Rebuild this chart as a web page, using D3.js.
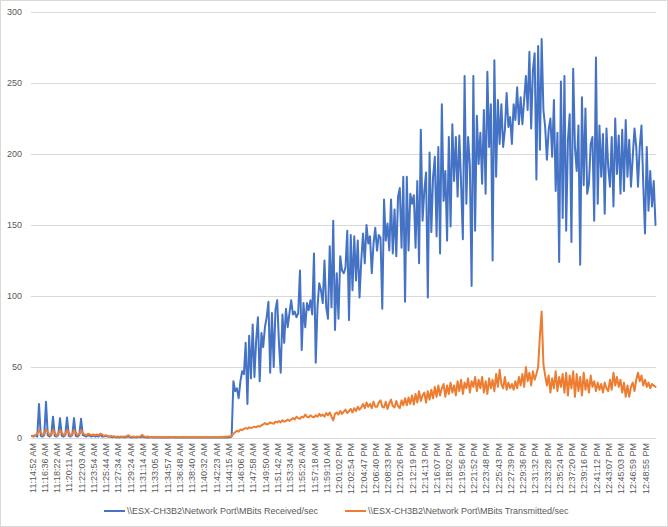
<!DOCTYPE html>
<html>
<head>
<meta charset="utf-8">
<script src="https://cdn.jsdelivr.net/npm/d3@7"></script>
<style>
  html, body { margin: 0; padding: 0; background: #fff; }
  svg { display: block; }
  text { font-family: "Liberation Sans", Arial, sans-serif; fill: #595959; }
</style>
</head>
<body>
<svg id="chart" width="668" height="527"></svg>
<script>
// ---- Tick labels (every 7th sample) ----
const tickLabels = [
  "11:14:52 AM","11:16:36 AM","11:18:22 AM","11:20:11 AM","11:22:03 AM","11:23:54 AM",
  "11:25:44 AM","11:27:34 AM","11:29:24 AM","11:31:14 AM","11:33:05 AM","11:34:57 AM",
  "11:36:48 AM","11:38:40 AM","11:40:32 AM","11:42:23 AM","11:44:15 AM","11:46:06 AM",
  "11:47:58 AM","11:49:50 AM","11:51:42 AM","11:53:34 AM","11:55:26 AM","11:57:18 AM",
  "11:59:10 AM","12:01:02 PM","12:02:54 PM","12:04:47 PM","12:06:40 PM","12:08:33 PM",
  "12:10:26 PM","12:12:19 PM","12:14:13 PM","12:16:07 PM","12:18:02 PM","12:19:56 PM",
  "12:21:52 PM","12:23:48 PM","12:25:43 PM","12:27:39 PM","12:29:36 PM","12:31:32 PM",
  "12:33:28 PM","12:35:24 PM","12:37:20 PM","12:39:16 PM","12:41:12 PM","12:43:07 PM",
  "12:45:03 PM","12:46:59 PM","12:48:55 PM"
];
const samplesPerLabel = 7;

const yTicks = [0, 50, 100, 150, 200, 250, 300];

const seriesNames = [
  "\\\\ESX-CH3B2\\Network Port\\MBits Received/sec",
  "\\\\ESX-CH3B2\\Network Port\\MBits Transmitted/sec"
];
const seriesColors = ["#4472C4", "#ED7D31"];

// ---- MBits Received/sec ----
const received = [
  1.5, 1, 2, 1, 24, 1.5, 1, 2, 25.5, 2,
  1, 2, 15, 1.5, 1, 2, 14, 1.5, 1, 2,
  14.5, 1.5, 1, 2, 14, 1.5, 1, 2, 13.5, 2,
  1.5, 1, 2, 1.5, 1, 2, 1, 1.5, 1, 2.5,
  1, 1, 1.5, 1, 1, 0.8, 0.5, 1, 0.5, 0.6,
  0.4, 0.8, 0.5, 0.5, 0.7, 1.2, 0.5, 0.4, 0.6, 0.5,
  0.4, 0.8, 0.5, 1.0, 0.5, 0.4, 0.5, 0.3, 0.6, 0.4,
  0.5, 0.3, 0.4, 0.6, 0.4, 0.5, 0.3, 0.4, 0.5, 0.3,
  0.6, 0.4, 0.3, 0.5, 0.4, 0.3, 0.5, 0.4, 0.3, 0.4,
  0.5, 0.3, 0.4, 0.3, 0.5, 0.4, 0.3, 0.5, 0.3, 0.4,
  0.3, 0.4, 0.5, 0.3, 0.4, 0.3, 0.4, 0.3, 0.5, 0.4,
  0.3, 0.5, 0.4, 0.5, 1,
  40, 33, 35, 28, 40, 47, 45, 67, 24, 72,
  42, 80, 43, 69, 85, 40, 74, 64, 78, 85,
  96, 46, 88, 50, 90, 97, 67, 46, 87, 67,
  91, 78, 88, 97, 87, 89, 85, 88, 118, 62,
  95, 78, 95, 90, 97, 87, 130, 53, 92, 109,
  104, 95, 125, 92, 84, 135, 92, 153, 76, 116,
  84, 128, 118, 116, 120, 146, 83, 143, 104, 142,
  111, 139, 99, 125, 144, 123, 150, 137, 142, 116,
  137, 148, 132, 143, 141, 91, 168, 139, 151, 132,
  168, 130, 161, 128, 170, 176, 134, 184, 96, 184,
  132, 172, 165, 171, 134, 181, 123, 217, 153, 174,
  187, 99, 201, 145, 184, 198, 142, 205, 130, 235,
  167, 188, 139, 212, 149, 221, 181, 212, 170, 213,
  179, 140, 255, 165, 212, 192, 107, 255, 146, 227,
  193, 215, 179, 231, 172, 258, 205, 235, 125, 266,
  184, 238, 207, 235, 205, 217, 243, 219, 226, 207,
  235, 224, 247, 221, 240, 221, 238, 255, 231, 272,
  218, 259, 271, 182, 276, 203, 281, 231, 219, 196,
  217, 225, 198, 238, 174, 215, 124, 251, 155, 255,
  146, 210, 228, 138, 260, 205, 188, 220, 122, 240,
  178, 232, 172, 179, 207, 212, 153, 268, 165, 220,
  184, 214, 158, 218, 191, 177, 212, 163, 225, 186,
  213, 172, 217, 174, 224, 184, 210, 177, 198, 218,
  205, 177, 205, 220, 179, 144, 205, 160, 188, 163,
  181, 150
];

// ---- MBits Transmitted/sec ----
const transmitted = [
  1.5, 1.5, 2, 3, 5.5, 4, 2, 2.5, 6, 4.5,
  2, 2.5, 5.5, 4, 1.5, 2.5, 5.5, 4, 2, 2.5,
  5.5, 4, 1.5, 2.5, 5.5, 4, 2, 2.5, 5.5, 3.5,
  2.5, 2, 3, 2.5, 2, 2.5, 2, 2.5, 2, 3,
  2.5, 1.5, 2, 1.5, 1, 1.5, 1, 1, 0.8, 1,
  0.8, 1, 0.8, 1, 1.2, 2, 1, 0.8, 1, 0.8,
  1, 0.8, 1.2, 2.2, 1, 0.8, 1, 0.8, 0.6, 0.8,
  0.6, 0.8, 0.6, 0.8, 0.6, 0.5, 0.7, 0.6, 0.5, 0.7,
  0.6, 0.5, 0.7, 0.6, 0.5, 0.6, 0.5, 0.7, 0.6, 0.5,
  0.6, 0.5, 0.7, 0.6, 0.5, 0.6, 0.5, 0.6, 0.5, 0.6,
  0.5, 0.6, 0.5, 0.6, 0.5, 0.6, 0.7, 0.6, 0.8, 0.7,
  0.8, 0.9, 1,
  1, 1.5, 3, 4, 5, 4.5, 6, 5.5, 6.5, 7,
  6.5, 7.5, 7, 7.5, 8, 7.5, 8.5, 8, 9, 9.5,
  10.5, 9.5, 10, 11, 10.5, 10, 11.5, 11, 12, 11,
  12.5, 11.5, 12, 13, 12, 13, 14, 13, 15, 14,
  13.5, 15, 14.5, 16.5, 15, 14.5, 16, 15, 14.5, 16,
  15, 17, 15.5, 16.5, 15, 17.5, 16, 18, 15, 12.5,
  17, 18, 16.5, 19, 17, 18.5, 20, 17.5, 19, 20.5,
  18, 21, 19, 22, 20, 21.5, 24, 21, 25, 22,
  24, 21, 25.5, 22, 22, 25, 26.5, 22, 21.5, 25.5,
  20.5, 24.5, 27, 22.5, 21.5, 26, 22.5, 21, 26.5, 23,
  28, 23, 28.5, 24, 30, 23.5, 31, 25, 33, 26,
  30, 32, 25, 33, 27, 34, 28, 36, 29, 37,
  30, 35, 38, 29, 37, 31, 39, 32, 37, 30,
  40, 33, 41, 31, 39, 35, 42, 32, 40, 36,
  43, 33, 41, 35, 43, 32, 40, 31, 42, 35,
  41, 33, 45, 36, 48, 38, 35, 43, 34, 39,
  35, 38, 34, 40, 35, 43, 37, 45, 36, 50,
  40, 46, 37, 47, 41, 45, 50, 72, 89, 52,
  44, 37, 44, 32, 42, 35, 47, 33, 43, 36,
  45, 32, 46, 30, 44, 35, 47, 29, 45, 33,
  43, 30, 46, 34, 41, 32, 44, 36, 40, 33,
  39, 34, 38, 32, 39, 35, 33, 41, 34, 46,
  37, 43, 36, 41, 32, 39, 29, 37, 29, 36,
  39, 33, 41, 46, 40, 44, 37, 41, 36, 39,
  35, 38, 37, 36
];

// ---- Drawing ----
const svg = d3.select("#chart");
const W = 668, H = 527;
const plot = { left: 31, right: 656, top: 12, bottom: 438 };

svg.append("rect").attr("x", 0).attr("y", 0).attr("width", W).attr("height", H).attr("fill", "#fff");
svg.append("rect").attr("x", 0.5).attr("y", 0.5).attr("width", W - 1).attr("height", H - 1)
  .attr("fill", "none").attr("stroke", "#d9d9d9");

const x = d3.scaleLinear().domain([0, 356]).range([32, 655.5]);
const y = d3.scaleLinear().domain([0, 300]).range([plot.bottom, plot.top]);

// gridlines
svg.append("g").selectAll("line").data(yTicks.filter(d => d > 0)).join("line")
  .attr("x1", plot.left).attr("x2", plot.right)
  .attr("y1", d => Math.round(y(d)) + 0.5).attr("y2", d => Math.round(y(d)) + 0.5)
  .attr("stroke", "#d9d9d9").attr("stroke-width", 1);

// y axis
const yAxis = d3.axisLeft(y).tickValues(yTicks).tickSize(0).tickPadding(9);
const gy = svg.append("g").attr("transform", `translate(${plot.left},0)`).call(yAxis);
gy.select(".domain").remove();
gy.selectAll("text").attr("font-size", 9).attr("fill", "#595959")
  .style("font-family", '"Liberation Sans", Arial, sans-serif');

// x axis
const tickIdx = tickLabels.map((_, k) => k * samplesPerLabel);
const xAxis = d3.axisBottom(x).tickValues(tickIdx).tickSize(0)
  .tickFormat(d => tickLabels[d / samplesPerLabel]);
const gx = svg.append("g").attr("transform", `translate(0,${plot.bottom})`).call(xAxis);
gx.select(".domain").remove();
gx.selectAll("text")
  .attr("font-size", 9).attr("fill", "#595959")
  .style("font-family", '"Liberation Sans", Arial, sans-serif')
  .attr("text-anchor", "end")
  .attr("x", 0).attr("y", 0).attr("dy", "0.35em")
  .attr("transform", "translate(0,5) rotate(-90)");
svg.append("line").attr("x1", plot.left).attr("x2", plot.right)
  .attr("y1", plot.bottom + 0.5).attr("y2", plot.bottom + 0.5)
  .attr("stroke", "#d9d9d9");

// lines
const line = d3.line().x((d, i) => x(i)).y(d => y(d));
[received, transmitted].forEach((s, k) => {
  svg.append("path").datum(s)
    .attr("fill", "none").attr("stroke", seriesColors[k])
    .attr("stroke-width", 2).attr("stroke-linejoin", "round").attr("stroke-linecap", "round")
    .attr("d", line);
});

// legend
const legendItems = [{ x: 104 }, { x: 345 }];
legendItems.forEach((it, k) => {
  const g = svg.append("g").attr("transform", `translate(${it.x},511)`);
  g.append("line").attr("x1", 0).attr("x2", 21).attr("y1", 0).attr("y2", 0)
    .attr("stroke", seriesColors[k]).attr("stroke-width", 2);
  g.append("text").attr("x", 23).attr("y", 0).attr("dy", "0.35em")
    .attr("font-size", 9).attr("fill", "#595959").text(seriesNames[k]);
});
</script>
</body>
</html>
